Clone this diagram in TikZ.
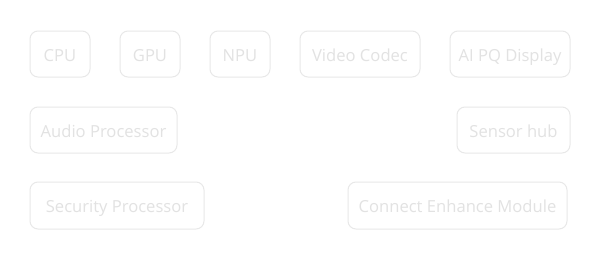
\documentclass[tikz,border=0pt]{standalone}
\usepackage{fontspec}
\setmainfont{Open Sans}
\definecolor{boxline}{HTML}{E8E8E8}
\definecolor{boxtext}{HTML}{E2E2E2}
\begin{document}
\begin{tikzpicture}[x=1pt,y=-1pt,
  blk/.style={draw=boxline,line width=1pt,rounded corners=8pt,text=boxtext,
    font=\fontsize{16.6}{19}\selectfont,inner sep=0pt,text height=14pt,text depth=0pt}]
\useasboundingbox[fill=white] (0,0) rectangle (600,260);
\newcommand{\blkbox}[6]{%
  \node[blk,minimum width=#4-#2,minimum height=#5-#3] (#1) at ({(#2+#4)/2},{(#3+#5)/2}) {#6};}
\blkbox{cpu}{30}{31}{90}{77}{CPU}
\blkbox{gpu}{120}{31}{180}{77}{GPU}
\blkbox{npu}{210}{31}{270}{77}{NPU}
\blkbox{vc}{300}{31}{420}{77}{Video Codec}
\blkbox{aipq}{450}{31}{570}{77}{AI PQ Display}
\blkbox{audio}{30}{107}{177}{153}{Audio Processor}
\blkbox{sensor}{457}{107}{570}{153}{Sensor hub}
\blkbox{sec}{30}{182}{204}{229}{Security Processor}
\blkbox{cem}{348}{182}{567}{229}{Connect Enhance Module}
\end{tikzpicture}
\end{document}
